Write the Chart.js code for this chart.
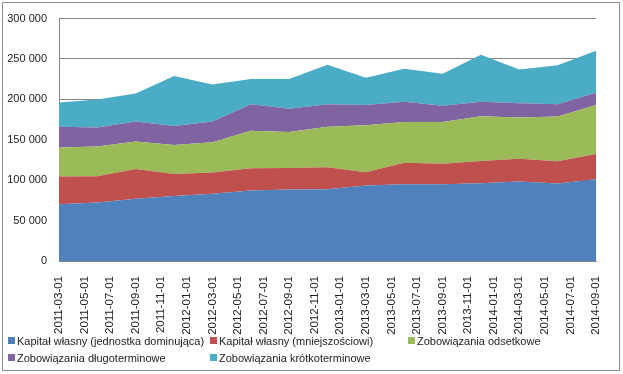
<!DOCTYPE html>
<html>
<head>
<meta charset="utf-8">
<script src="https://cdn.jsdelivr.net/npm/chart.js@4.4.0/dist/chart.umd.min.js"></script>
<style>
  body { margin: 0; background: #fff; font-family: "Liberation Sans", Arial, sans-serif; }
  #frame { position: absolute; left: 2px; top: 2px; width: 616px; height: 367px; border: 1px solid #8e8e8e; }
  #wrap { position: absolute; left: 0; top: 0; }
  #legend { position: absolute; left: 8px; top: 334px; display: grid; grid-template-columns: 202px 198px 200px; row-gap: 4px; font-size: 11px; color: #222; }
  .item { display: flex; align-items: center; white-space: nowrap; height: 13px; }
  .box { width: 7px; height: 7px; margin-right: 2px; flex: none; }
</style>
</head>
<body>
<div id="frame"></div>
<div id="wrap"><canvas id="chart" width="623" height="374"></canvas></div>
<div id="legend"></div>
<script>
// punkty danych (kwartalnie)
const dates = ["2011-03-01", "2011-06-01", "2011-09-01", "2011-12-01", "2012-03-01", "2012-06-01", "2012-09-01", "2012-12-01",
  "2013-03-01", "2013-06-01", "2013-09-01", "2013-12-01", "2014-03-01", "2014-06-01", "2014-09-01"];

// etykiety osi X (co 2 miesiące)
const tickLabels = ["2011-03-01", "2011-05-01", "2011-07-01", "2011-09-01", "2011-11-01", "2012-01-01", "2012-03-01",
  "2012-05-01", "2012-07-01", "2012-09-01", "2012-11-01", "2013-01-01", "2013-03-01", "2013-05-01", "2013-07-01",
  "2013-09-01", "2013-11-01", "2014-01-01", "2014-03-01", "2014-05-01", "2014-07-01", "2014-09-01"];

const names = ["Kapitał własny (jednostka dominująca)", "Kapitał własny (mniejszościowi)", "Zobowiązania odsetkowe",
  "Zobowiązania długoterminowe", "Zobowiązania krótkoterminowe"];

const kapitalDominujaca = [70100, 72500, 77100, 80300, 83200, 87300, 88500, 88900, 93400, 95100, 95100, 96300, 98400, 95900, 101200];
const kapitalMniejszosciowi = [34400, 32400, 36900, 27500, 26200, 27500, 26700, 27100, 16400, 26600, 25400, 27500, 28200, 27500, 31200];
const zobOdsetkowe = [36000, 36900, 34000, 35700, 37700, 46300, 44600, 50000, 58300, 50400, 51600, 55300, 50900, 55300, 60600];
const zobDlugoterminowe = [25500, 23300, 24500, 23700, 25400, 32800, 28700, 27900, 24900, 25000, 20100, 18000, 17600, 15200, 15200];
const zobKrotkoterminowe = [30300, 34900, 34900, 61900, 45900, 31500, 36900, 49100, 33700, 40700, 39400, 58300, 41800, 48300, 52000];

const colors = ["#4F81BD", "#C0504D", "#9BBB59", "#8064A2", "#4BACC6"];
const series = [kapitalDominujaca, kapitalMniejszosciowi, zobOdsetkowe, zobDlugoterminowe, zobKrotkoterminowe];

// liczba miesięcy od 2011-03
function monthIndex(d) {
  const [y, m] = d.split("-").map(Number);
  return (y - 2011) * 12 + (m - 3);
}

function fmt(v) {
  return String(v).replace(/\B(?=(\d{3})+(?!\d))/g, " ");
}

const datasets = series.map((vals, i) => ({
  label: names[i],
  data: vals.map((v, j) => ({ x: monthIndex(dates[j]), y: v })),
  backgroundColor: colors[i],
  borderColor: colors[i],
  borderWidth: 0,
  pointRadius: 0,
  tension: 0,
  fill: i === 0 ? "origin" : "-1"
}));

const ctx = document.getElementById("chart").getContext("2d");
const chart = new Chart(ctx, {
  type: "line",
  data: { datasets: datasets },
  options: {
    responsive: false,
    animation: false,
    layout: { padding: { top: 17, right: 27, left: 0, bottom: 0 } },
    plugins: { legend: { display: false }, tooltip: { enabled: false } },
    scales: {
      x: {
        type: "linear",
        min: 0,
        max: monthIndex(tickLabels[tickLabels.length - 1]),
        afterBuildTicks: (s) => { s.ticks = tickLabels.map((t) => ({ value: monthIndex(t) })); },
        afterFit: (s) => { s.height = 113; },
        grid: { display: false },
        border: { display: true, color: "#868686" },
        ticks: {
          autoSkip: false,
          maxRotation: 90,
          minRotation: 90,
          padding: 7,
          color: "#222",
          font: { family: "'Liberation Sans', Arial, sans-serif", size: 11.5 },
          callback: (v) => tickLabels.find((t) => monthIndex(t) === v)
        }
      },
      y: {
        stacked: true,
        min: 0,
        max: 300000,
        afterFit: (s) => { s.width = 59; },
        grid: { color: "#868686", drawTicks: false },
        border: { display: true, color: "#868686" },
        ticks: {
          stepSize: 50000,
          padding: 12,
          color: "#222",
          font: { family: "'Liberation Sans', Arial, sans-serif", size: 11 },
          callback: (v) => fmt(v)
        }
      }
    }
  }
});

// legenda w HTML
const legend = document.getElementById("legend");
chart.data.datasets.forEach((ds) => {
  const item = document.createElement("div");
  item.className = "item";
  item.innerHTML = `<span class="box" style="background:${ds.backgroundColor}"></span>${ds.label}`;
  legend.appendChild(item);
});
</script>
</body>
</html>
